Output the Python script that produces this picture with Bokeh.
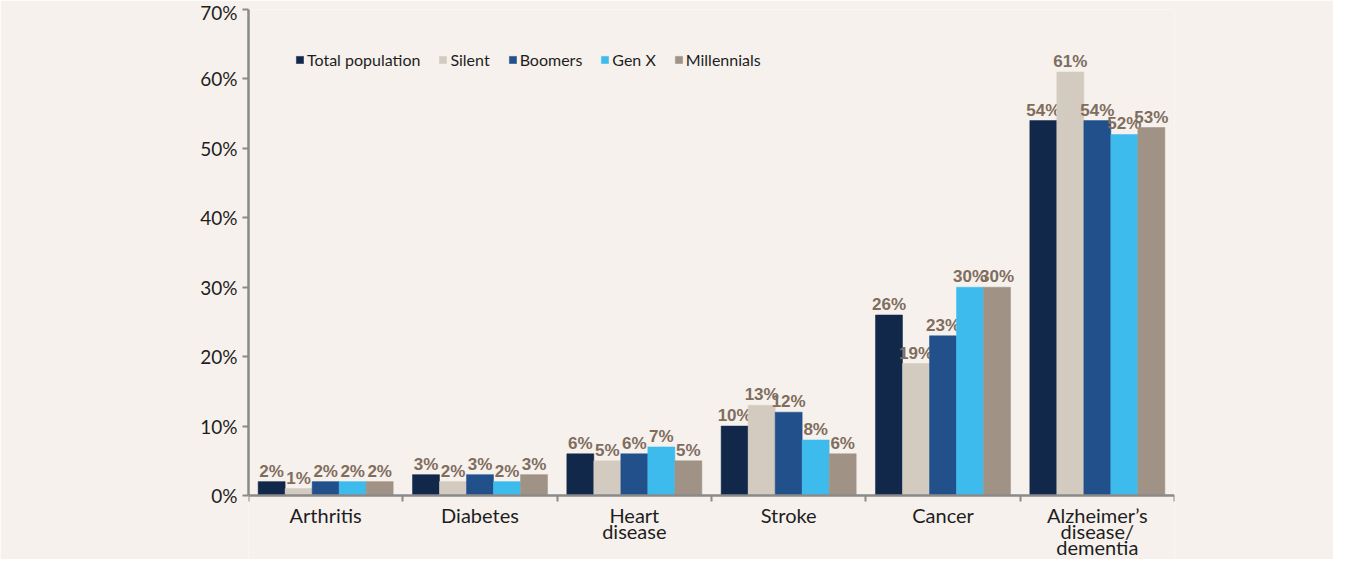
from bokeh.plotting import figure
from bokeh.models import (Range1d, FixedTicker, PrintfTickFormatter, Legend, LegendItem,
                          ColumnDataSource)
from bokeh.core.properties import value
from bokeh.embed import file_html
from bokeh.resources import INLINE

categories = ["Arthritis", "Diabetes", "Heart\ndisease", "Stroke", "Cancer",
              "Alzheimer\u2019s\ndisease/\ndementia"]
series_names = ["Total population", "Silent", "Boomers", "Gen X", "Millennials"]
total_population = [2, 3, 6, 10, 26, 54]
silent = [1, 2, 5, 13, 19, 61]
boomers = [2, 3, 6, 12, 23, 54]
gen_x = [2, 2, 7, 8, 30, 52]
millennials = [2, 3, 5, 6, 30, 53]
y_ticks = [0, 10, 20, 30, 40, 50, 60, 70]

series_values = [total_population, silent, boomers, gen_x, millennials]
colors = ["#12284b", "#d4cbc0", "#22508b", "#3dbbec", "#a09284"]

BG = "#f6f1ed"
AXIS = "#8a8a8a"
LABEL_COLOR = "#7f6d5e"
TEXT = "#1e1e1e"

# frame: top at 9px, zero at 495px, bottom of figure at 559px
p = figure(width=1333, height=559, output_backend="svg", toolbar_location=None,
           x_range=Range1d(-0.5, 5.5), y_range=Range1d(-64 * 70 / 486, 70),
           min_border_left=248, min_border_right=159, min_border_top=9,
           min_border_bottom=0)
p.background_fill_color = BG
p.border_fill_color = BG
p.outline_line_color = None
p.grid.visible = False

bar_w = 0.175
offsets = [-0.35, -0.175, 0.0, 0.175, 0.35]
items = []
for name, vals, col, off in zip(series_names, series_values, colors, offsets):
    src = ColumnDataSource(dict(
        x=[i + off for i in range(len(categories))],
        top=vals,
        lab=[f"{v}%" for v in vals],
    ))
    r = p.vbar(x="x", top="top", width=bar_w, source=src, fill_color=col,
               line_color=col, line_width=0.5)
    p.text(x="x", y="top", text="lab", source=src, text_align="center",
           text_baseline="bottom", y_offset=-1,
           text_font=value("Liberation Sans"), text_font_style="bold",
           text_font_size="17px", text_color=LABEL_COLOR)
    items.append(LegendItem(label=name, renderers=[r]))

legend = Legend(items=items, orientation="horizontal", location=(47, 490),
                background_fill_alpha=0, border_line_color=None, padding=0,
                margin=0, glyph_width=9, glyph_height=9, label_standoff=3,
                spacing=18, label_text_font="Lato",
                label_text_font_size="16px", label_text_color=TEXT,
                label_height=18)
p.add_layout(legend)

# y axis
ya = p.yaxis[0]
ya.ticker = FixedTicker(ticks=y_ticks)
ya.formatter = PrintfTickFormatter(format="%d%%")
ya.bounds = (0, 70)
ya.axis_line_color = AXIS
ya.axis_line_width = 2.5
ya.major_tick_line_color = AXIS
ya.major_tick_line_width = 2
ya.major_tick_out = 6
ya.major_tick_in = 0
ya.minor_tick_line_color = None
ya.major_label_text_font = "Lato"
ya.major_label_text_font_size = "19px"
ya.major_label_text_color = TEXT

# x axis at y = 0 with ticks at the category boundaries
xa = p.xaxis[0]
xa.fixed_location = 0
xa.ticker = FixedTicker(ticks=[],
                        minor_ticks=[i - 0.5 for i in range(len(categories) + 1)])
xa.axis_line_color = AXIS
xa.axis_line_width = 2.5
xa.major_tick_line_color = None
xa.minor_tick_line_color = AXIS
xa.minor_tick_line_width = 2
xa.minor_tick_out = 6
xa.minor_tick_in = 0

# category names under the axis, one text row per line
line_gap = 16
max_lines = max(len(c.split("\n")) for c in categories)
for k in range(max_lines):
    xs, texts = [], []
    for i, c in enumerate(categories):
        parts = c.split("\n")
        if k < len(parts):
            xs.append(i)
            texts.append(parts[k])
    src = ColumnDataSource(dict(x=xs, y=[0] * len(xs), text=texts))
    p.text(x="x", y="y", text="text", source=src, text_align="center",
           text_baseline="middle", y_offset=19 + k * line_gap,
           text_font=value("Lato"), text_font_size="20px", text_color=TEXT)

open("out.html", "w").write(file_html(p, INLINE))
